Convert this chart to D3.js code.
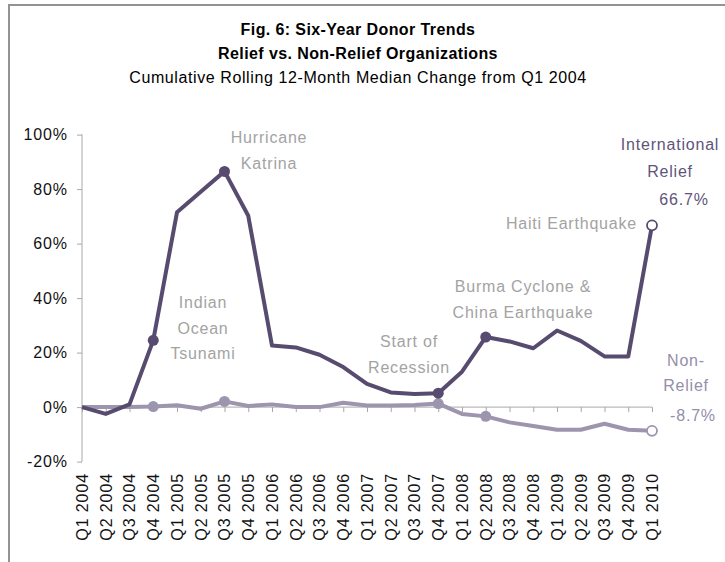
<!DOCTYPE html>
<html>
<head>
<meta charset="utf-8">
<script src="https://cdn.jsdelivr.net/npm/d3@7"></script>
<style>
  html, body { margin: 0; padding: 0; background: #fff; }
  svg { display: block; font-family: "Liberation Sans", Arial, sans-serif; }
</style>
</head>
<body>
<svg id="chart" width="725" height="562"></svg>
<script>
// Quarterly categories
const quarters = [
  "Q1 2004", "Q2 2004", "Q3 2004", "Q4 2004",
  "Q1 2005", "Q2 2005", "Q3 2005", "Q4 2005",
  "Q1 2006", "Q2 2006", "Q3 2006", "Q4 2006",
  "Q1 2007", "Q2 2007", "Q3 2007", "Q4 2007",
  "Q1 2008", "Q2 2008", "Q3 2008", "Q4 2008",
  "Q1 2009", "Q2 2009", "Q3 2009", "Q4 2009",
  "Q1 2010"
];

// Cumulative rolling 12-month median change from Q1 2004 (%)
const internationalRelief = [
  0, -2.5, 1, 24.5,
  71.5, 79, 86.5, 70.2,
  22.6, 21.9, 19.2, 14.7,
  8.5, 5.4, 4.8, 5.1,
  13, 25.7, 24.1, 21.6,
  28.1, 24.3, 18.6, 18.6,
  66.7
];
const nonRelief = [
  0, 0, 0, 0.2,
  0.7, -0.6, 2.1, 0.4,
  1, 0, 0, 1.6,
  0.6, 0.6, 0.8, 1.3,
  -2.5, -3.4, -5.6, -6.9,
  -8.3, -8.3, -6.1, -8.3,
  -8.7
];

// Quarters highlighted with event markers, and the final (open) point
const eventQuarters = ["Q4 2004", "Q3 2005", "Q4 2007", "Q2 2008"];
const lastQuarter = "Q1 2010";

// Y axis ticks
const yTicks = [-20, 0, 20, 40, 60, 80, 100];

const titleLines = ["Fig. 6: Six-Year Donor Trends", "Relief vs. Non-Relief Organizations"];
const subtitle = "Cumulative Rolling 12-Month Median Change from Q1 2004";

// Event annotations: text lines, placement
const annotations = [
  { lines: ["Hurricane", "Katrina"], x: 269, y: 143, anchor: "middle" },
  { lines: ["Indian", "Ocean", "Tsunami"], x: 203, y: 308, anchor: "middle" },
  { lines: ["Start of", "Recession"], x: 409, y: 347, anchor: "middle" },
  { lines: ["Burma Cyclone &", "China Earthquake"], x: 523, y: 292, anchor: "middle" },
  { lines: ["Haiti Earthquake"], x: 637, y: 229, anchor: "end" }
];

const DARK = "#574b6f";
const LIGHT = "#9d95ae";
const NOTE = "#a3a3a3";

const svg = d3.select("#chart");

// Frame
svg.append("path")
  .attr("d", "M9,562V5H725")
  .attr("fill", "none")
  .attr("stroke", "#939393")
  .attr("stroke-width", 2);

// Titles
const tg = svg.append("g").attr("text-anchor", "middle").attr("fill", "#000");
tg.selectAll("text.title").data(titleLines).join("text")
  .attr("class", "title")
  .attr("x", 358)
  .attr("y", (d, i) => 35 + i * 24)
  .attr("font-size", 16)
  .attr("font-weight", "bold")
  .attr("letter-spacing", 0.4)
  .text(d => d);
tg.append("text")
  .attr("x", 358)
  .attr("y", 83)
  .attr("font-size", 16)
  .attr("letter-spacing", 0.6)
  .text(subtitle);

// Scales
const x = d3.scalePoint().domain(quarters).range([82, 652]).padding(0);
const y = d3.scaleLinear().domain([-20, 100]).range([461.6, 134.6]);

const AXIS = "#a8a8a8";

// Y axis
const yAxis = svg.append("g")
  .attr("transform", "translate(82,0)")
  .call(d3.axisLeft(y).tickValues(yTicks).tickSize(5).tickPadding(9)
    .tickFormat(d => d + "%"));
yAxis.select(".domain").attr("stroke", AXIS).attr("d", `M-0.5,${y(-20)}H0V${y(100)}H-0.5`);
yAxis.selectAll(".tick line").attr("stroke", AXIS);
yAxis.selectAll(".tick text")
  .attr("font-size", 16)
  .attr("letter-spacing", 0.9)
  .attr("fill", "#111")
  .style("font-family", "'Liberation Sans', Arial, sans-serif");

// X axis along the 0% line
const xAxis = svg.append("g")
  .attr("transform", `translate(0,${y(0)})`)
  .call(d3.axisBottom(x).tickSize(5).tickFormat(""));
xAxis.select(".domain").attr("stroke", AXIS).attr("d", `M${x(quarters[0])},0H${x(lastQuarter)}`);
xAxis.selectAll(".tick line").attr("stroke", AXIS);

// Category labels, rotated, below the plot
svg.append("g").selectAll("text").data(quarters).join("text")
  .attr("transform", d => `translate(${x(d)},473) rotate(-90)`)
  .attr("text-anchor", "end")
  .attr("dy", "0.36em")
  .attr("font-size", 16)
  .attr("letter-spacing", 0.9)
  .attr("fill", "#111")
  .text(d => d);

// Series lines
const line = d3.line()
  .x((d, i) => x(quarters[i]))
  .y(d => y(d));

function drawSeries(values, color) {
  svg.append("path")
    .datum(values)
    .attr("d", line)
    .attr("fill", "none")
    .attr("stroke", color)
    .attr("stroke-width", 4)
    .attr("stroke-linejoin", "round");
  svg.append("g").selectAll("circle")
    .data(eventQuarters)
    .join("circle")
    .attr("cx", d => x(d))
    .attr("cy", d => y(values[quarters.indexOf(d)]))
    .attr("r", 5.5)
    .attr("fill", color);
  svg.append("circle")
    .attr("cx", x(lastQuarter))
    .attr("cy", y(values[quarters.indexOf(lastQuarter)]))
    .attr("r", 5)
    .attr("fill", "#fff")
    .attr("stroke", color)
    .attr("stroke-width", 1.8);
}

drawSeries(nonRelief, LIGHT);
drawSeries(internationalRelief, DARK);

// Event notes
const ng = svg.append("g").attr("fill", NOTE).attr("font-size", 16).attr("letter-spacing", 0.8);
annotations.forEach(a => {
  const t = ng.append("text").attr("text-anchor", a.anchor);
  a.lines.forEach((s, i) => {
    t.append("tspan").attr("x", a.x).attr("y", a.y + i * 25.5).text(s);
  });
});

// Series labels with final values
const fmt = v => v.toFixed(1) + "%";
const lastRelief = internationalRelief[internationalRelief.length - 1];
const lastNon = nonRelief[nonRelief.length - 1];

const rl = svg.append("g").attr("fill", "#5f5579").attr("font-size", 16)
  .attr("letter-spacing", 0.8).attr("text-anchor", "middle");
rl.append("text").attr("x", 670).attr("y", 150).text("International");
rl.append("text").attr("x", 670).attr("y", 176.5).text("Relief");
rl.append("text").attr("x", 684).attr("y", 205).text(fmt(lastRelief));

const nl = svg.append("g").attr("fill", "#968dab").attr("font-size", 16)
  .attr("letter-spacing", 0.8).attr("text-anchor", "middle");
nl.append("text").attr("x", 686).attr("y", 366).text("Non-");
nl.append("text").attr("x", 686).attr("y", 391).text("Relief");
nl.append("text").attr("x", 693).attr("y", 421).text(fmt(lastNon));
</script>
</body>
</html>
